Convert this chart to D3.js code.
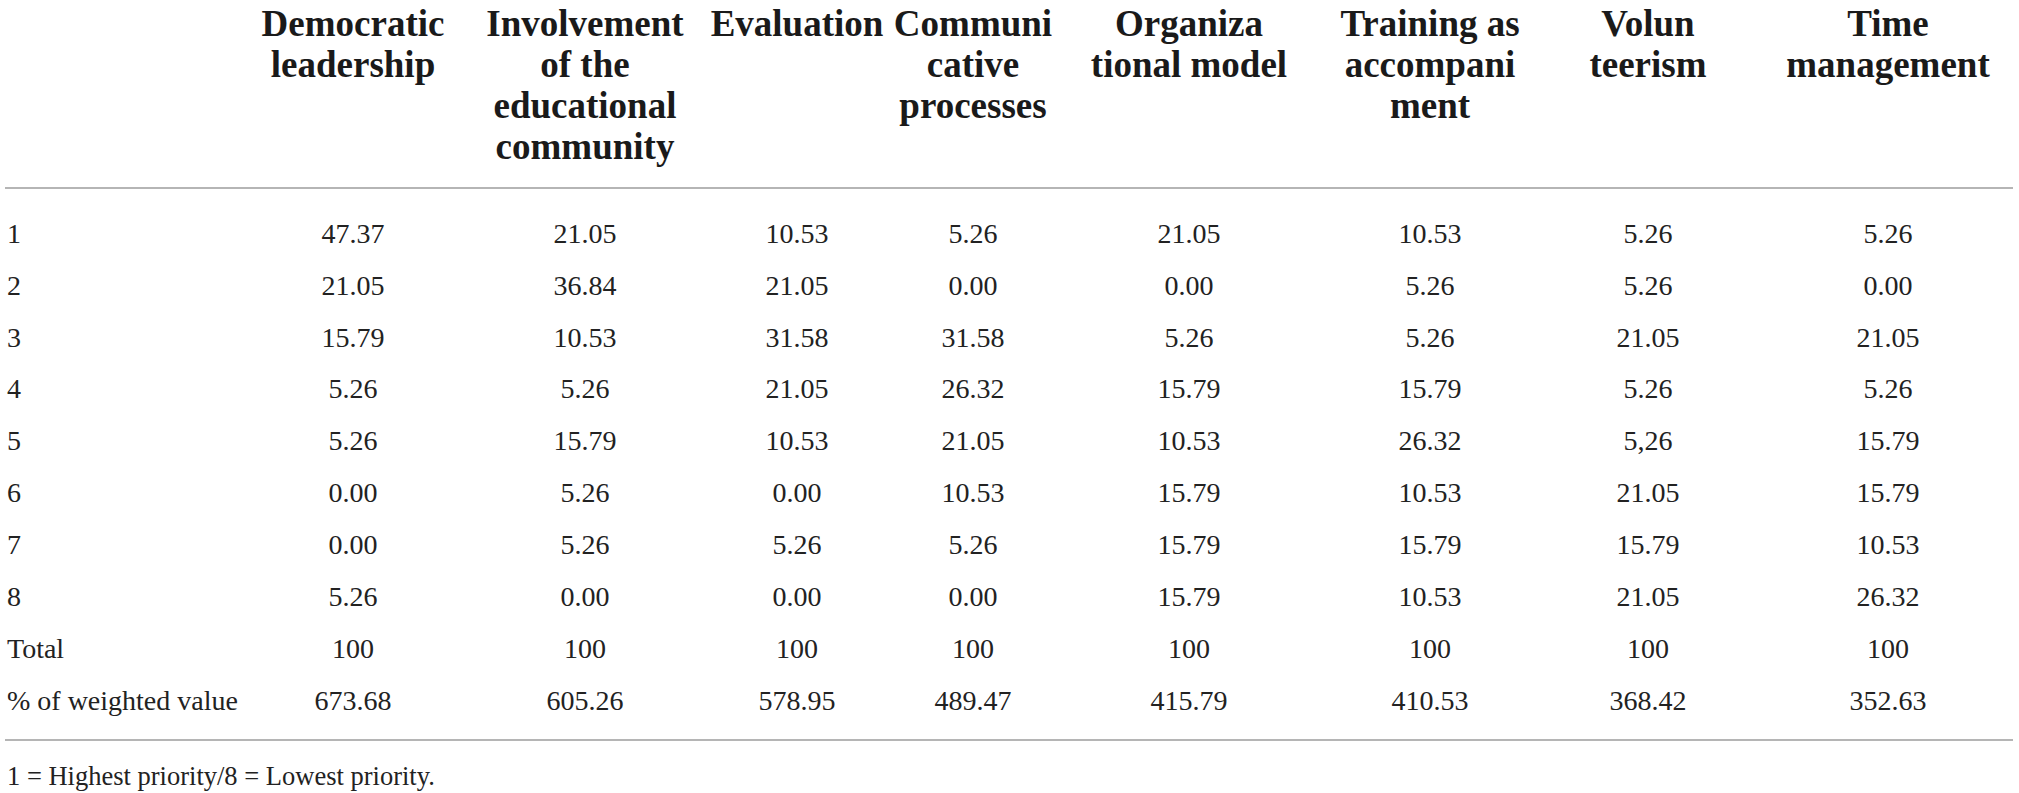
<!DOCTYPE html>
<html>
<head>
<meta charset="utf-8">
<script src="https://cdn.jsdelivr.net/npm/d3@7/dist/d3.min.js"></script>
<style>
html,body{margin:0;padding:0;background:#fff;}
svg{display:block;}
</style>
</head>
<body>
<svg id="chart" width="2019" height="793"></svg>
<script>
// ---- data ----
const categories = ["Democratic leadership","Involvement of the educational community","Evaluation","Communicative processes","Organizational model","Training as accompaniment","Volunteerism","Time management"];
const headerLines = [["Democratic","leadership"],["Involvement","of the","educational","community"],["Evaluation"],["Communi","cative","processes"],["Organiza","tional model"],["Training as","accompani","ment"],["Volun","teerism"],["Time","management"]];
const rowLabels = ["1","2","3","4","5","6","7","8","Total","% of weighted value"];
const democraticLeadership = ["47.37","21.05","15.79","5.26","5.26","0.00","0.00","5.26","100","673.68"];
const involvement = ["21.05","36.84","10.53","5.26","15.79","5.26","5.26","0.00","100","605.26"];
const evaluation = ["10.53","21.05","31.58","21.05","10.53","0.00","5.26","0.00","100","578.95"];
const communicative = ["5.26","0.00","31.58","26.32","21.05","10.53","5.26","0.00","100","489.47"];
const organizational = ["21.05","0.00","5.26","15.79","10.53","15.79","15.79","15.79","100","415.79"];
const training = ["10.53","5.26","5.26","15.79","26.32","10.53","15.79","10.53","100","410.53"];
const volunteerism = ["5.26","5.26","21.05","5.26","5,26","21.05","15.79","21.05","100","368.42"];
const timeManagement = ["5.26","0.00","21.05","5.26","15.79","15.79","10.53","26.32","100","352.63"];
const footnote = "1 = Highest priority/8 = Lowest priority.";

const series = [democraticLeadership, involvement, evaluation, communicative, organizational, training, volunteerism, timeManagement];

// ---- layout ----
const colCenters = [353, 585, 797, 973, 1189, 1430, 1648, 1888];
const x = d3.scaleOrdinal().domain(categories).range(colCenters);
const y = d3.scalePoint().domain(rowLabels).range([233, 700]);
const headerY = d3.scaleLinear().domain([0, 1]).range([36, 77]);

const serif = "'Liberation Serif','Times New Roman',serif";
const svg = d3.select("#chart");

// header
const hdr = svg.append("g").attr("font-family", serif).attr("font-weight", "bold")
  .attr("font-size", 37).attr("fill", "#1a1a1a").attr("text-anchor", "middle");
categories.forEach((c, i) => {
  hdr.append("text").attr("x", x(c))
    .selectAll("tspan").data(headerLines[i]).join("tspan")
    .attr("x", x(c)).attr("y", (d, j) => headerY(j)).text(d => d);
});

// rules
const rule = [5, 2013];
svg.append("line").attr("x1", rule[0]).attr("x2", rule[1]).attr("y1", 188).attr("y2", 188)
  .attr("stroke", "#b5b5b5").attr("stroke-width", 2);
svg.append("line").attr("x1", rule[0]).attr("x2", rule[1]).attr("y1", 740).attr("y2", 740)
  .attr("stroke", "#b5b5b5").attr("stroke-width", 2);

// row labels
const body = svg.append("g").attr("font-family", serif).attr("font-size", 28).attr("fill", "#222");
body.selectAll("text.rl").data(rowLabels).join("text").attr("class", "rl")
  .attr("x", 7).attr("y", d => y(d)).attr("dy", "0.35em").text(d => d);

// cells
categories.forEach((c, i) => {
  body.selectAll("text.c" + i).data(series[i]).join("text").attr("class", "c" + i)
    .attr("x", x(c)).attr("y", (d, j) => y(rowLabels[j])).attr("dy", "0.35em")
    .attr("text-anchor", "middle").text(d => d);
});

// footnote
svg.append("text").attr("x", 7).attr("y", 776).attr("dy", "0.35em")
  .attr("font-family", serif).attr("font-size", 26.5).attr("fill", "#222").text(footnote);
</script>
</body>
</html>
